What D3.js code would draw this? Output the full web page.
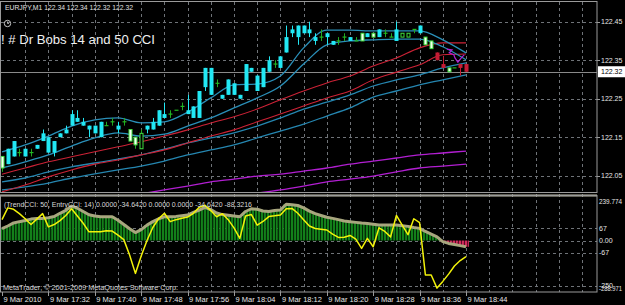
<!DOCTYPE html>
<html>
<head>
<meta charset="utf-8">
<script src="https://cdn.jsdelivr.net/npm/d3@7"></script>
<style>
  html, body { margin: 0; padding: 0; background: #000; }
  svg { display: block; }
  text { font-family: "Liberation Sans", Arial, sans-serif; }
</style>
</head>
<body>
<svg id="chart" width="625" height="305"></svg>
<script>
// EURJPY M1 bars, 17:24 .. 18:44 (one per minute)
const opens  = [122.10,122.08,122.10,122.11,122.10,122.11,122.12,122.14,122.15,122.14,122.15,122.16,122.18,122.20,122.18,122.18,122.18,122.15,122.18,122.19,122.18,122.19,122.17,122.15,122.12,122.17,122.17,122.18,122.21,122.21,122.22,122.23,122.22,122.20,122.20,122.28,122.33,122.29,122.26,122.26,122.29,122.26,122.27,122.33,122.31,122.28,122.32,122.34,122.33,122.37,122.42,122.41,122.42,122.43,122.41,122.41,122.42,122.40,122.40,122.41,122.41,122.40,122.42,122.41,122.42,122.41,122.42,122.41,122.40,122.41,122.41,122.43,122.42,122.41,122.40,122.37,122.34,122.33,122.33,122.34,122.34];
const highs  = [122.10,122.12,122.14,122.12,122.12,122.12,122.13,122.17,122.15,122.14,122.16,122.18,122.22,122.22,122.20,122.18,122.18,122.19,122.19,122.20,122.19,122.20,122.17,122.15,122.17,122.18,122.20,122.22,122.24,122.22,122.22,122.24,122.26,122.23,122.27,122.33,122.33,122.30,122.26,122.30,122.29,122.26,122.34,122.33,122.31,122.33,122.36,122.35,122.36,122.44,122.44,122.44,122.44,122.45,122.42,122.43,122.42,122.40,122.41,122.42,122.41,122.41,122.42,122.42,122.42,122.43,122.43,122.42,122.45,122.42,122.42,122.43,122.44,122.41,122.40,122.37,122.36,122.33,122.33,122.34,122.34];
const lows   = [122.06,122.08,122.10,122.10,122.10,122.10,122.12,122.14,122.11,122.10,122.15,122.16,122.18,122.19,122.18,122.15,122.16,122.15,122.18,122.18,122.16,122.18,122.14,122.12,122.12,122.16,122.17,122.18,122.20,122.20,122.22,122.22,122.21,122.20,122.20,122.27,122.26,122.28,122.25,122.26,122.26,122.25,122.27,122.32,122.27,122.28,122.32,122.33,122.33,122.37,122.41,122.39,122.42,122.41,122.39,122.40,122.39,122.39,122.39,122.40,122.40,122.40,122.40,122.41,122.41,122.41,122.41,122.41,122.40,122.41,122.41,122.42,122.42,122.39,122.38,122.35,122.33,122.32,122.33,122.31,122.32];
const closes = [122.07,122.12,122.14,122.11,122.12,122.11,122.13,122.16,122.11,122.11,122.16,122.17,122.21,122.19,122.19,122.17,122.16,122.19,122.18,122.19,122.17,122.19,122.14,122.13,122.16,122.18,122.19,122.22,122.20,122.21,122.22,122.23,122.21,122.23,122.27,122.33,122.26,122.29,122.25,122.30,122.26,122.25,122.34,122.32,122.27,122.33,122.35,122.34,122.36,122.41,122.43,122.44,122.44,122.42,122.40,122.41,122.41,122.39,122.40,122.41,122.40,122.40,122.40,122.42,122.41,122.43,122.42,122.41,122.43,122.42,122.42,122.43,122.44,122.39,122.38,122.35,122.33,122.32,122.33,122.33,122.32];
// bar colouring by the indicator: c = cyan (up), r = red (down), n = default chart colours
const paint = ["n","c","c","n","c","n","c","c","c","c","c","c","c","c","c","c","c","c","n","n","c","n","n","n","n","c","c","c","c","n","n","n","c","c","c","c","c","n","c","c","c","c","c","c","c","c","c","n","c","c","c","c","c","c","c","n","c","c","n","n","c","n","n","c","n","c","n","n","c","n","n","n","c","n","n","r","r","n","n","r","r"];

// overlay lines, read every 4th bar
const lineBars   = [0,4,8,12,16,20,24,28,32,36,40,44,48,52,56,60,64,68,72,76,80];
const bandUpper  = [122.112,122.130,122.153,122.179,122.195,122.200,122.187,122.190,122.215,122.252,122.286,122.288,122.309,122.382,122.428,122.428,122.426,122.426,122.426,122.403,122.369];
const bandLower  = [122.070,122.086,122.104,122.127,122.148,122.161,122.153,122.158,122.179,122.200,122.226,122.252,122.283,122.340,122.390,122.400,122.403,122.405,122.405,122.385,122.351];
const redUpper   = [122.054,122.070,122.086,122.099,122.112,122.125,122.138,122.153,122.169,122.187,122.203,122.223,122.247,122.270,122.291,122.309,122.335,122.356,122.382,122.395,122.395];
const redLower   = [122.008,122.026,122.047,122.065,122.080,122.091,122.104,122.117,122.135,122.153,122.169,122.190,122.210,122.231,122.252,122.270,122.299,122.319,122.338,122.364,122.366];
const blueUpper  = [122.034,122.044,122.060,122.073,122.083,122.093,122.104,122.119,122.135,122.148,122.161,122.179,122.200,122.223,122.241,122.260,122.283,122.299,122.312,122.330,122.343];
const blueLower  = [122.013,122.021,122.031,122.044,122.055,122.065,122.075,122.088,122.104,122.117,122.130,122.148,122.166,122.184,122.205,122.226,122.254,122.270,122.286,122.299,122.312];
const magUpper   = [null,null,null,null,null,null,122.003,122.013,122.023,122.034,122.041,122.049,122.054,122.062,122.070,122.080,122.088,122.096,122.104,122.109,122.114];
const magLower   = [null,null,null,null,null,null,null,null,null,null,null,122.005,122.013,122.023,122.034,122.041,122.049,122.060,122.070,122.075,122.080];
// small purple drawing near the last bars: [bar, price]
const scribble = [[76.7,122.379],[77.6,122.377],[77.1,122.369],[77.9,122.364],[78.1,122.356],[78.6,122.345],[79.3,122.358],[79.7,122.364]];

// sub window: TrendCCI(50) histogram and EntryCCI(14) line
const trendCCI = [65,80,97,104,110,118,122,122,126,132,150,166,190,178,160,142,135,131,131,131,112,88,65,44,60,85,104,120,131,131,133,137,140,155,168,183,170,152,143,139,135,131,160,175,172,163,160,165,168,200,197,193,180,162,148,138,128,122,115,108,104,100,96,94,90,86,85,85,85,82,78,72,67,50,35,20,-6,-16,-22,-28,-34.642];
const entryCCI = [115,180,172,148,120,88,118,148,75,88,110,138,175,135,95,48,48,48,54,52,30,5,-80,-181,-85,0,72,120,150,104,115,123,129,150,183,194,165,131,148,115,70,12,135,143,85,105,132,136,141,175,177,150,115,80,66,62,58,35,17,18,28,8,-43,12,-34,70,50,20,138,85,32,120,98,-190,-190,-262,-225,-185,-140,-110,-88.3216];

const priceTicks = [122.45,122.35,122.25,122.15,122.05];
const lastPrice = 122.32;
const cciLevels = [67,0,-67,-250];
const cciTickVals = [239.774,67,0,-67,-250,-288.971];
const cciTickText = ["239.774","67","0.00","-67","-250","-288.971"];
const timeBars = [0,8,16,24,32,40,48,56,64,72,80];
const timeText = ["9 Mar 2010","9 Mar 17:32","9 Mar 17:40","9 Mar 17:48","9 Mar 17:56","9 Mar 18:04","9 Mar 18:12","9 Mar 18:20","9 Mar 18:28","9 Mar 18:36","9 Mar 18:44"];

const svg = d3.select("#chart");
const plotRight = 597;

// scales
const x = d3.scaleLinear().domain([0, 80]).range([2, 466]);
const y = d3.scaleLinear().domain([122.05, 122.45]).range([175.7, 21.7]);
const yc = d3.scaleLinear().domain([-288.971, 239.774]).range([293, 197]);

svg.append("rect").attr("width", 625).attr("height", 305).attr("fill", "#000");

const defs = svg.append("defs");
defs.append("clipPath").attr("id", "clipMain")
  .append("rect").attr("x", 1).attr("y", 2).attr("width", plotRight - 1).attr("height", 190);
defs.append("clipPath").attr("id", "clipSub")
  .append("rect").attr("x", 1).attr("y", 196).attr("width", plotRight - 1).attr("height", 96);
const pg = defs.append("pattern").attr("id", "hatchG").attr("width", 3).attr("height", 4)
  .attr("patternUnits", "userSpaceOnUse");
pg.append("rect").attr("width", 3).attr("height", 4).attr("fill", "#032a06");
pg.append("rect").attr("width", 2).attr("height", 4).attr("fill", "#13801a");
const pr = defs.append("pattern").attr("id", "hatchR").attr("width", 3).attr("height", 4)
  .attr("patternUnits", "userSpaceOnUse");
pr.append("rect").attr("width", 3).attr("height", 4).attr("fill", "#5a0a24");
pr.append("rect").attr("width", 2).attr("height", 4).attr("fill", "#d42a5c");

// grid
const gridColor = "#6f7378";
const grid = svg.append("g").attr("stroke", gridColor).attr("stroke-dasharray", "3,3").attr("stroke-width", 1);
const gridBars = d3.range(4, 101, 4).filter(b => x(b) < plotRight - 2);
grid.selectAll("line.v").data(gridBars).join("line")
  .attr("x1", b => Math.round(x(b)) + 0.5).attr("x2", b => Math.round(x(b)) + 0.5)
  .attr("y1", 2).attr("y2", 292);
grid.selectAll("line.p").data(priceTicks).join("line")
  .attr("x1", 1).attr("x2", plotRight)
  .attr("y1", d => Math.round(y(d)) + 0.5).attr("y2", d => Math.round(y(d)) + 0.5);
grid.selectAll("line.c").data(cciLevels).join("line")
  .attr("x1", 1).attr("x2", plotRight)
  .attr("y1", d => Math.round(yc(d)) + 0.5).attr("y2", d => Math.round(yc(d)) + 0.5);

// current price line
svg.append("line").attr("x1", 1).attr("x2", plotRight)
  .attr("y1", Math.round(y(lastPrice)) + 0.5).attr("y2", Math.round(y(lastPrice)) + 0.5)
  .attr("stroke", "#8a8a8a").attr("stroke-width", 1);

// main window: overlay lines
const main = svg.append("g").attr("clip-path", "url(#clipMain)");
function overlay(vals, color, width) {
  const pts = lineBars.map((b, k) => ({ b: b, v: vals[k] }));
  const line = d3.line().defined(d => d.v != null)
    .x(d => x(d.b)).y(d => y(d.v)).curve(d3.curveMonotoneX);
  main.append("path").datum(pts).attr("d", line)
    .attr("fill", "none").attr("stroke", color).attr("stroke-width", width);
}
overlay(magLower, "#b21ed2", 1.3);
overlay(magUpper, "#b21ed2", 1.3);
overlay(blueLower, "#2586b0", 1.3);
overlay(blueUpper, "#2586b0", 1.3);
overlay(redLower, "#cc2236", 1.1);
overlay(redUpper, "#cc2236", 1.1);
overlay(bandLower, "#2a8fb8", 1.3);
overlay(bandUpper, "#2a8fb8", 1.3);

main.append("path")
  .attr("d", d3.line().x(d => x(d[0])).y(d => y(d[1]))(scribble))
  .attr("fill", "none").attr("stroke", "#b020d8").attr("stroke-width", 1.2);

// candles
const cyan = "#22e8f4", red = "#c41c34", lime = "#3fdc3f";
const bars = opens.map((o, i) => ({ i, o, h: highs[i], l: lows[i], c: closes[i], p: paint[i] }));
const cg = main.append("g");
bars.forEach(d => {
  const cx = Math.round(x(d.i)) + 0.5;
  const top = y(Math.max(d.o, d.c)), bot = y(Math.min(d.o, d.c));
  const col = d.p === "c" ? cyan : d.p === "r" ? red : lime;
  cg.append("line").attr("x1", cx).attr("x2", cx).attr("y1", y(d.h)).attr("y2", y(d.l))
    .attr("stroke", d.p === "n" ? "#22a822" : col).attr("stroke-width", 1);
  if (d.p !== "n") {
    cg.append("rect").attr("x", cx - 2).attr("width", 4)
      .attr("y", top).attr("height", Math.max(bot - top, 2)).attr("fill", col);
  } else if (d.o === d.c) {
    cg.append("line").attr("x1", cx - 2).attr("x2", cx + 2).attr("y1", top).attr("y2", top)
      .attr("stroke", "#22b822").attr("stroke-width", 1.2);
  } else {
    cg.append("rect").attr("x", cx - 1.5).attr("width", 3)
      .attr("y", top).attr("height", Math.max(bot - top, 1.5))
      .attr("fill", d.c < d.o ? "#f4fff0" : "#000")
      .attr("stroke", lime).attr("stroke-width", 1);
  }
});

// sub window: histogram + lines
const sub = svg.append("g").attr("clip-path", "url(#clipSub)");
const bw = x(1) - x(0);
sub.selectAll("rect.h").data(trendCCI).join("rect")
  .attr("x", (v, i) => x(i) - bw / 2).attr("width", bw)
  .attr("y", v => yc(Math.max(v, 0))).attr("height", v => Math.abs(yc(v) - yc(0)))
  .attr("fill", v => v >= 0 ? "url(#hatchG)" : "url(#hatchR)");
sub.append("path").datum(trendCCI)
  .attr("d", d3.line().x((v, i) => x(i)).y(v => yc(v)))
  .attr("fill", "none").attr("stroke", "#a8a67e").attr("stroke-width", 3).attr("stroke-linejoin", "round");
sub.append("path").datum(entryCCI)
  .attr("d", d3.line().x((v, i) => x(i)).y(v => yc(v)))
  .attr("fill", "none").attr("stroke", "#f2f20a").attr("stroke-width", 1.5).attr("stroke-linejoin", "round");

// frames
svg.append("rect").attr("x", 0.5).attr("y", 1.5).attr("width", plotRight - 0.5).attr("height", 191)
  .attr("fill", "none").attr("stroke", "#9a9a9a");
svg.append("line").attr("x1", 0).attr("x2", plotRight).attr("y1", 195.5).attr("y2", 195.5)
  .attr("stroke", "#c4c2ae").attr("stroke-width", 2);
svg.append("rect").attr("x", 0.5).attr("y", 195.5).attr("width", plotRight - 0.5).attr("height", 96.5)
  .attr("fill", "none").attr("stroke", "#9a9a9a");

// right axis labels
const axisCol = "#e6e6e6";
const axisFont = 7;
svg.selectAll("text.p").data(priceTicks).join("text")
  .attr("x", plotRight + 4).attr("y", d => y(d) + 2.5)
  .attr("font-size", axisFont).attr("fill", axisCol).text(d => d.toFixed(2));
svg.selectAll("line.pt").data(priceTicks).join("line")
  .attr("x1", plotRight).attr("x2", plotRight + 3)
  .attr("y1", d => Math.round(y(d)) + 0.5).attr("y2", d => Math.round(y(d)) + 0.5)
  .attr("stroke", "#9a9a9a");
svg.append("rect").attr("x", plotRight + 1).attr("y", y(lastPrice) - 5.5)
  .attr("width", 27).attr("height", 11).attr("fill", "#fff");
svg.append("text").attr("x", plotRight + 4).attr("y", y(lastPrice) + 2.5)
  .attr("font-size", axisFont).attr("fill", "#000").text(lastPrice.toFixed(2));

svg.selectAll("text.c").data(cciTickVals).join("text")
  .attr("x", plotRight + 2)
  .attr("y", (v, i) => i === 0 ? yc(v) + 7 : i === cciTickVals.length - 1 ? yc(v) - 2 : yc(v) + 2.5)
  .attr("font-size", axisFont).attr("fill", axisCol)
  .attr("textLength", (v, i) => cciTickText[i].length > 5 ? 23 : null)
  .attr("lengthAdjust", "spacingAndGlyphs")
  .text((v, i) => cciTickText[i]);

// time axis
svg.selectAll("line.t").data(timeBars).join("line")
  .attr("x1", b => Math.round(x(b)) + 0.5).attr("x2", b => Math.round(x(b)) + 0.5)
  .attr("y1", 292).attr("y2", 296).attr("stroke", "#9a9a9a");
svg.selectAll("text.t").data(timeBars).join("text")
  .attr("x", b => x(b) + 1.5).attr("y", 302)
  .attr("font-size", 7.5).attr("fill", axisCol).text((b, i) => timeText[i]);

// captions
svg.append("text").attr("x", 5).attr("y", 9.5).attr("font-size", 7.5).attr("fill", "#e0e0e0")
  .attr("textLength", 128).attr("lengthAdjust", "spacingAndGlyphs")
  .text("EURJPY,M1  122.34 122.34 122.32 122.32");
svg.append("circle").attr("cx", 7.5).attr("cy", 23.5).attr("r", 3.2)
  .attr("fill", "none").attr("stroke", "#c8c8c8").attr("stroke-width", 1);
svg.append("path").attr("d", "M7.5,21.5V23.5H9").attr("fill", "none").attr("stroke", "#c8c8c8").attr("stroke-width", 0.8);
svg.append("text").attr("x", 1).attr("y", 44).attr("font-size", 13.5).attr("fill", "#f0f0f0")
  .attr("textLength", 154).attr("lengthAdjust", "spacingAndGlyphs")
  .text("! # Dr Bobs 14 and 50 CCI");
svg.append("text").attr("x", 4).attr("y", 207).attr("font-size", 7.5).attr("fill", "#d8d8d8")
  .attr("textLength", 248).attr("lengthAdjust", "spacingAndGlyphs")
  .text("(TrendCCI: 50, EntryCCI: 14)  0.0000 -34.6420 0.0000 0.0000 -34.6420 -88.3216");
svg.append("text").attr("x", 3).attr("y", 289.5).attr("font-size", 7.5).attr("fill", "#d8d8d8")
  .attr("textLength", 175).attr("lengthAdjust", "spacingAndGlyphs")
  .text("MetaTrader; \u00a9 2001-2009 MetaQuotes Software Corp.");
</script>
</body>
</html>
